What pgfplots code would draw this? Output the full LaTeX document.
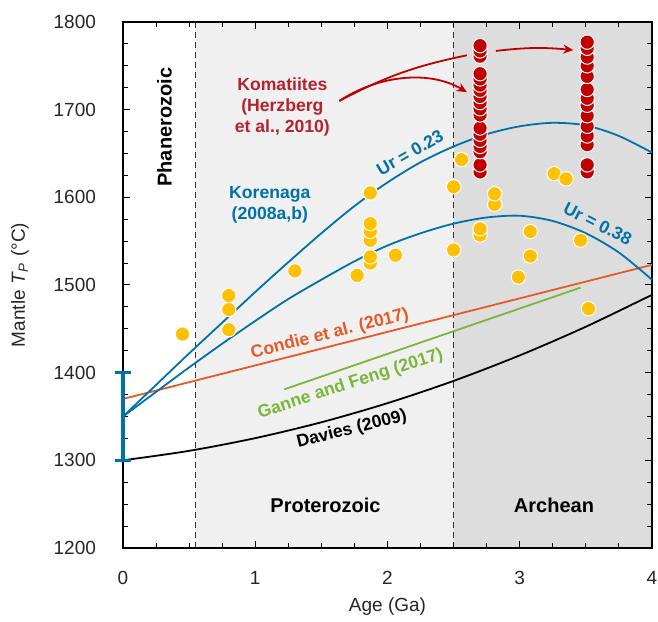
\documentclass[border=0pt]{standalone}
\usepackage{fontspec}
\setmainfont{Liberation Sans}
\usepackage{pgfplots}
\pgfplotsset{compat=1.18}
\usetikzlibrary{arrows.meta}
\definecolor{kblue}{RGB}{0,114,170}
\definecolor{corange}{RGB}{230,90,40}
\definecolor{ggreen}{RGB}{122,182,58}
\definecolor{kred}{RGB}{192,0,0}
\definecolor{ktext}{RGB}{180,35,45}
\definecolor{gold}{RGB}{255,192,0}
\definecolor{lightbg}{RGB}{240,240,240}
\definecolor{darkbg}{RGB}{221,221,221}
\tikzset{annot/.style={font=\bfseries\fontsize{8.8}{10.5}\selectfont}}

\begin{document}
\begin{tikzpicture}
\begin{axis}[
    name=ax,
    set layers,
    scale only axis,
    width=264.5pt, height=263pt,
    xmin=0, xmax=4, ymin=1200, ymax=1800,
    xtick={0,1,2,3,4}, ytick={1200,1300,...,1800},
    minor x tick num=3, minor y tick num=3,
    tick align=inside,
    major tick length=3.5pt, minor tick length=2.5pt,
    tick style={black, line width=0.5pt},
    axis line style={line width=0.6pt},
    ticklabel style={font=\fontsize{9.5}{11}\selectfont, text=black!85},
    xticklabel style={yshift=-8pt},
    yticklabel style={xshift=-10pt},
    /pgf/number format/assume math mode=true,
    /pgf/number format/1000 sep={},
    xlabel={Age (Ga)},
    ylabel={Mantle \textit{T}\textsubscript{\textit{P}} (°C)},
    label style={font=\fontsize{9.5}{11}\selectfont, text=black!85},
    xlabel style={at={([yshift=-29.5pt]axis description cs:0.5,0)}, anchor=center},
    ylabel style={at={([xshift=-51.5pt]axis description cs:0,0.5)}, anchor=center},
    clip=false,
]
% eon shading, behind ticks and axis lines
\begin{pgfonlayer}{axis background}
\fill[lightbg] (axis cs:0.55,1200) rectangle (axis cs:2.5,1800);
\fill[darkbg] (axis cs:2.5,1200) rectangle (axis cs:4,1800);
\draw[black!80, line width=0.6pt, dash pattern=on 3pt off 2pt] (axis cs:0.55,1200) -- (axis cs:0.55,1800);
\draw[black!80, line width=0.6pt, dash pattern=on 3pt off 2pt] (axis cs:2.5,1200) -- (axis cs:2.5,1800);
\end{pgfonlayer}

% Davies (2009)
\addplot[black, line width=0.9pt, smooth] coordinates {
    (0,1300) (0.5,1310.8) (1,1325.3) (1.5,1343.4) (2,1365.2)
    (2.5,1390.6) (3,1419.7) (3.5,1452.4) (4,1488.8)
};
% Condie et al. (2017)
\addplot[corange, line width=0.9pt] coordinates {(0,1370) (4,1523)};
% Ganne and Feng (2017)
\addplot[ggreen, line width=0.9pt] coordinates {(1.22,1381) (3.46,1497)};
% Korenaga Ur = 0.23
\addplot[kblue, line width=0.9pt, smooth] coordinates {
    (0,1350) (0.25,1386) (0.5,1422) (0.75,1457) (1.0,1492) (1.25,1526)
    (1.5,1559) (1.75,1590) (2.0,1617) (2.25,1640) (2.5,1658) (2.75,1672)
    (3.0,1681) (3.25,1685) (3.5,1682) (3.75,1670) (4.0,1651)
};
% Korenaga Ur = 0.38
\addplot[kblue, line width=0.9pt, smooth] coordinates {
    (0,1350) (0.25,1378) (0.5,1406) (0.75,1433) (1.0,1459) (1.25,1484)
    (1.5,1506) (1.75,1527) (2.0,1545) (2.25,1559) (2.5,1570) (2.75,1577)
    (3.0,1579) (3.25,1573) (3.5,1559) (3.75,1537) (4.0,1506)
};

% petrological estimates
\addplot[only marks, mark=*, mark size=3.6pt,
    mark options={fill=gold, draw=white, line width=0.5pt}] coordinates {
    (0.45,1444) (0.80,1449) (0.80,1472) (0.80,1488) (1.30,1516) (1.77,1511)
    (1.87,1525) (1.87,1532) (1.87,1551) (1.87,1561) (1.87,1570) (1.87,1605)
    (2.06,1534) (2.50,1540) (2.50,1612) (2.56,1643) (2.70,1557) (2.70,1564)
    (2.81,1592) (2.81,1604) (2.99,1509) (3.08,1533) (3.08,1561) (3.26,1627)
    (3.35,1621) (3.46,1551) (3.52,1473)
};
% komatiites
\addplot[only marks, mark=*, mark size=3.6pt,
    mark options={fill=kred, draw=white, line width=0.5pt}] coordinates {
    (2.70,1629) (2.70,1637) (2.70,1652) (2.70,1658) (2.70,1665) (2.70,1672)
    (2.70,1679) (2.70,1694) (2.70,1701) (2.70,1708) (2.70,1715) (2.70,1722)
    (2.70,1728) (2.70,1735) (2.70,1741) (2.70,1761) (2.70,1767) (2.70,1773)
    (3.51,1629) (3.51,1637) (3.51,1660) (3.51,1670) (3.51,1681) (3.51,1693)
    (3.51,1705) (3.51,1713) (3.51,1723) (3.51,1738) (3.51,1750) (3.51,1760)
    (3.51,1770) (3.51,1777)
};
% present-day range (1300-1400 at 0 Ga), over the axis line
\addplot[kblue, line width=1.7pt, mark=-, mark size=4pt, on layer=axis foreground,
    mark options={kblue, line width=1.4pt}] coordinates {(0,1300) (0,1400)};

% arrows
\draw[kred, line width=0.9pt] (axis cs:1.636,1710) to[bend left=8] (axis cs:2.60,1762);
\draw[kred, line width=0.9pt, -{Stealth[length=5pt, width=4.5pt]}]
    (axis cs:1.636,1710) .. controls (axis cs:1.94,1740) and (axis cs:2.32,1745) .. (axis cs:2.60,1720);
\draw[kred, line width=0.9pt, -{Stealth[length=5pt, width=4.5pt]}]
    (axis cs:2.82,1767) to[bend left=6] (axis cs:3.405,1768);

% labels
\node[annot, text=ktext, align=center] at (axis cs:1.205,1703) {Komatiites\\(Herzberg\\et al., 2010)};
\node[annot, text=kblue, align=center] at (axis cs:1.11,1591) {Korenaga\\(2008a,b)};
\node[annot, text=kblue, rotate=30] at (axis cs:2.17,1651) {Ur = 0.23};
\node[annot, text=kblue, rotate=-27] at (axis cs:3.59,1570) {Ur = 0.38};
\node[annot, text=corange, rotate=14] at (axis cs:1.565,1444) {Condie et al. (2017)};
\node[annot, text=ggreen, rotate=18] at (axis cs:1.72,1387) {Ganne and Feng (2017)};
\node[annot, rotate=14] at (axis cs:1.73,1335) {Davies (2009)};
\node[font=\bfseries\fontsize{10}{12}\selectfont, rotate=90] at (axis cs:0.314,1680) {Phanerozoic};
\node[font=\bfseries\fontsize{10}{12}\selectfont] at (axis cs:1.531,1249) {Proterozoic};
\node[font=\bfseries\fontsize{10}{12}\selectfont] at (axis cs:3.259,1249) {Archean};
\end{axis}
\pgfresetboundingbox
\path[use as bounding box] ([xshift=-61.5pt, yshift=-37pt]ax.south west)
    rectangle ([xshift=3pt, yshift=11pt]ax.north east);
\end{tikzpicture}
\end{document}
